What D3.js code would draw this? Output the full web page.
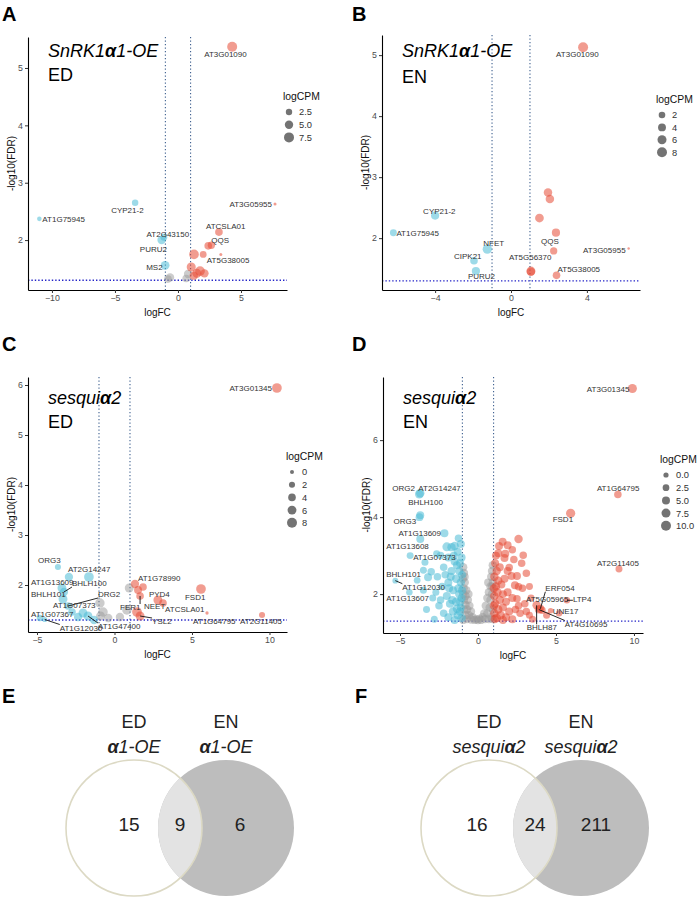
<!DOCTYPE html>
<html><head><meta charset="utf-8">
<script src="https://cdn.jsdelivr.net/npm/d3@7"></script>
<style>body{margin:0;background:#fff}</style>
</head><body>
<svg id="fig" width="700" height="905" xmlns="http://www.w3.org/2000/svg"></svg>
<script>
// ---------------- DATA ----------------
const fdrThreshold = 1.3;      // -log10(0.05)
const fcThreshold = 1;

// Panel A: SnRK1a1-OE, ED
const aGene = ["AT3G01090","AT3G05955","CYP21-2","AT1G75945","AT2G43150","PURU2","MS2","","","","","","","","","","","QQS","","ATCSLA01","AT5G38005",""];
const aLogFC = [4.3,7.7,-3.4,-11.0,-1.3,-1.12,-1.02,-0.63,-0.8,0.8,0.65,1.27,1.05,1.75,1.5,1.25,2.0,2.4,2.65,3.25,3.4,2.1];
const aNegLogFDR = [5.37,2.63,2.65,2.37,2.0,2.05,1.56,1.35,1.32,1.41,1.33,1.75,1.53,1.46,1.42,1.38,1.75,1.9,1.91,2.14,1.75,1.42];
const aLogCPM = [7.5,-0.2,2.6,0.8,5,3,5.5,5,4,5,4,7,6,7,6,5,3,4,3.5,4,-0.2,5];
const aXTicks = [-10,-5,0,5];
const aYTicks = [2,3,4,5];
const aLegendCPM = [2.5,5.0,7.5];

// Panel B: SnRK1a1-OE, EN
const bGene = ["AT3G01090","","","","QQS","","AT3G05955","AT5G56370","","AT5G38005","CYP21-2","AT1G75945","NFET","CIPK21","PURU2"];
const bLogFC = [3.8,1.95,2.05,1.5,2.37,2.25,6.2,1.05,1.05,2.4,-4.0,-6.2,-1.25,-1.95,-1.85];
const bNegLogFDR = [5.13,2.75,2.64,2.33,2.09,1.79,1.83,1.46,1.45,1.39,2.37,2.09,1.82,1.63,1.46];
const bLogCPM = [8,5,5,5.5,4.5,3,-2,6,5,3.5,4.5,2.5,6.5,3.5,4.5];
const bXTicks = [-4,0,4];
const bYTicks = [2,3,4,5];
const bLegendCPM = [2,4,6,8];

// Panel C: sesquia2, ED
const cGene = ["AT3G01345","ORG3","","AT2G14247","AT1G13609","BHLH100","BHLH101","DRG2","AT1G07373","AT1G07367","AT1G12030","AT1G47400","","","",
  "","","","","","","",
  "AT1G78990","","","FER1","PYD4","ATCSLA01","FSD1","NEET","YSL2","AT1G64795","AT2G11405"];
const cLogFC = [10.48,-3.65,-1.65,-2.94,-3.39,-3.26,-3.32,-3.0,-2.03,-4.81,-4.5,-1.71,-1.32,-2.74,-2.35,
  0.95,-0.94,-0.74,0.8,0.35,-0.4,-0.9,
  1.32,1.84,1.52,1.65,2.8,3.13,5.58,1.45,1.65,5.97,9.52];
const cNegLogFDR = [5.94,2.36,2.16,2.16,1.94,1.86,1.72,1.58,1.44,1.34,1.31,1.38,1.3,1.46,1.36,
  1.94,1.64,1.46,1.5,1.36,1.34,1.38,
  2.02,1.96,1.9,1.78,1.7,1.64,1.92,1.46,1.38,1.44,1.4];
const cLogCPM = [7.5,2,7.5,5,6,5,6,4,6,2.5,1,6,5,4,5,
  6,7,7,7,5,5,6,
  5,4,4.5,4,6,4,7.5,7.5,6,-0.5,2];
const cXTicks = [-5,0,5,10];
const cYTicks = [2,3,4,5,6];
const cLegendCPM = [0,2,4,6,8];

// Panel D: sesquia2, EN
const dGene = ["AT3G01345","ORG2","AT2G14247","BHLH100","ORG3","AT1G13609","AT1G13608","AT1G07373","BHLH101","AT1G12030","AT1G13607",
  "AT1G64795","FSD1","AT2G11405","ERF054","AT5G05965","LTP4","UNE17","AT4G10695","BHLH87"];
const dLogFC = [9.9,-3.76,-3.7,-3.7,-3.75,-2.15,-3.7,-4.35,-3.9,-5.3,-4.4,8.97,5.94,9.04,4.0,4.1,5.7,4.66,3.9,3.76];
const dNegLogFDR = [7.34,4.6,4.62,4.05,4.0,3.58,3.43,3.0,2.36,2.35,2.05,4.59,4.1,2.65,1.62,1.58,1.84,1.57,1.6,1.71];
const dLogCPM = [7.5,7,6,5,4.5,5,5,3,2.5,1,2,4,8,3,5,4,2,0.5,5,6];
// unlabeled down-regulated genes (logFC, -log10FDR, logCPM)
const dDownFC = [-2.0,-1.7,-1.5,-1.3,-1.15,-2.4,-1.9,-1.5,-1.2,-2.2,-1.7,-2.6,-1.4,-1.1,-1.9,-2.3,-1.6,-1.2,-2.7,-1.05,-2.0,-1.4,-1.8,-2.5,-1.1,-1.6,-2.2,-1.3,-1.9,-1.05,-2.8,-1.5,-3.3,-2.9,-1.25,-1.15,-1.75,-2.1,-1.35,-1.02,-1.02,-2.4,-3.5,-3.4,-3.2,-3.5,-3.0,-1.1,-1.25,-1.55,-1.05,-1.85,-1.35,-1.65,-1.15,-2.65];
const dDownY = [3.23,3.22,3.25,3.1,2.8,3.0,2.95,2.85,2.6,2.7,2.6,2.45,2.4,2.3,2.3,2.2,2.1,2.0,2.05,1.9,1.95,1.8,1.75,1.7,1.65,1.55,1.5,1.45,1.4,1.38,1.35,1.33,1.6,1.9,2.15,1.55,2.45,2.5,2.75,2.1,2.5,1.85,2.1,2.83,2.44,2.62,2.58,3.3,3.45,3.0,2.95,2.15,1.62,1.85,1.8,3.05];
const dDownCPM = [7,6,6,5,5,4,5,5,6,4,5,4,6,6,5,4,5,6,3,5,5,6,5,4,5,6,4,5,5,6,3,5,3,3,6,5,5,4,5,5,5,4,3,3,5,3,4,5,4,5,5,5,6,5,6,3];
// unlabeled up-regulated genes
const dUpFC = [1.58,1.9,2.6,1.3,1.7,2.9,2.8,3.1,2.15,2.5,2.37,2.0,2.6,2.85,2.5,1.1,1.2,1.05,1.3,1.15,1.5,1.7,1.25,1.6,1.05,1.9,1.4,1.1,1.8,2.2,1.3,1.6,1.05,2.0,1.45,1.2,1.8,2.4,2.7,3.0,3.3,2.2,1.6,3.4,1.4,1.9,3.3,1.35,1.15,2.3,1.75,2.2,3.1,3.5,2.6,4.4,5.2,1.02,1.02,1.08];
const dUpY = [3.36,3.27,3.43,3.06,2.94,3.01,2.8,2.54,2.47,2.47,2.23,2.69,2.19,2.15,1.88,2.8,2.6,2.45,2.35,2.2,2.25,2.4,2.05,2.0,1.95,2.05,1.85,1.75,1.8,1.9,1.6,1.65,1.5,1.55,1.45,1.38,1.4,1.6,1.5,1.75,1.45,1.35,1.33,1.9,2.7,2.6,2.2,3.25,3.0,2.9,3.05,3.15,1.55,1.35,1.7,1.45,1.5,2.15,1.7,1.35];
const dUpCPM = [5,5,6,5,5,4,4,4,5,5,5,4,4,4,4,5,6,6,6,6,5,5,6,5,6,5,6,6,5,5,6,5,6,5,6,6,5,4,4,4,3,5,5,3,5,5,3,5,5,4,5,4,4,3,4,3,2,6,6,6];
// unlabeled non-significant genes
const dFlatFC = [-0.95,-0.9,-0.97,-0.85,-0.92,-0.75,-0.95,-0.8,-0.65,-0.9,-0.55,-0.8,-0.7,-0.45,-0.92,-0.58,-0.35,-0.82,-0.22,-0.7,-0.45,-0.95,-0.6,-0.85,
  0.95,0.9,0.85,0.95,0.8,0.7,0.9,0.6,0.8,0.5,0.75,0.4,0.95,0.6,0.3,0.85,0.2,0.7,0.45,0.95,0.65,0.9,0.0,0.08,-0.1];
const dFlatY = [2.7,2.55,2.4,2.3,2.15,2.1,2.0,1.95,1.85,1.85,1.7,1.72,1.6,1.55,1.6,1.45,1.4,1.45,1.33,1.35,1.34,1.33,2.0,2.45,
  2.75,2.6,2.45,2.3,2.2,2.05,2.0,1.9,1.85,1.7,1.65,1.5,1.6,1.5,1.4,1.4,1.33,1.35,1.35,1.35,2.3,2.2,1.32,1.36,1.35];
const dFlatCPM = [6,6,6,6,6,6,6,6,6,6,6,6,6,6,6,6,6,6,6,6,6,6,5,5,
  6,6,6,6,6,6,6,6,6,6,6,6,6,6,6,6,6,6,6,6,5,5,5,5,5];
const dXTicks = [-5,0,5,10];
const dYTicks = [2,4,6];
const dLegendCPM = [0.0,2.5,5.0,7.5,10.0];

// Venn diagrams
const eSets = ["ED","EN"];
const eCounts = [15,9,6];
const fSets = ["ED","EN"];
const fCounts = [16,24,211];

// ---------------- LAYOUT / STYLE ----------------
const COL = {up:"#E64B35", down:"#4DBBD5", ns:"#999999"};
const FONT = "'Liberation Sans', Arial, Helvetica, sans-serif";

const layout = {
  A:{left:28,right:287,top:37,bottom:290,xDom:[-11.9,8.65],yDom:[1.13,5.54],rDom:[2.5,7.5],rRange:[3.2,5.0],
     legX:283,legY:100,legStep:12.7,letterX:2,letterY:21,titleX:48,titleY:57,subY:81,fmt:".1f"},
  B:{left:382,right:640,top:35,bottom:290,xDom:[-6.8,6.8],yDom:[1.15,5.33],rDom:[2,8],rRange:[3.3,5.0],
     legX:656,legY:103,legStep:12.4,letterX:352,letterY:21,titleX:402,titleY:57,subY:83,fmt:"d"},
  C:{left:28,right:287,top:377,bottom:632,xDom:[-5.58,11.13],yDom:[1.06,6.16],rDom:[0,8],rRange:[2.0,5.0],
     legX:286,legY:460,legStep:12.7,letterX:2,letterY:351,titleX:48,titleY:404,subY:428,fmt:"d"},
  D:{left:383,right:643,top:377,bottom:633,xDom:[-6.09,10.58],yDom:[0.99,7.64],rDom:[0,10],rRange:[2.6,5.0],
     legX:660,legY:463,legStep:12.7,letterX:352,letterY:351,titleX:403,titleY:404,subY:428,fmt:".1f"}
};

// label offsets (dx, dy relative to point, anchor, leader line)
const labelLayout = {
  A:{"AT3G01090":[-28,10,"start",0],"AT3G05955":[-3,3,"end",0],"CYP21-2":[-24,10,"start",0],"AT1G75945":[3,3,"start",0],
     "AT2G43150":[-15,-3,"start",0],"PURU2":[-24,15,"start",0],"MS2":[-19,5,"start",0],"ATCSLA01":[-13,-3,"start",0],
     "QQS":[3,-3,"start",0],"AT5G38005":[-14,9,"start",0]},
  B:{"AT3G01090":[-27,10,"start",0],"CYP21-2":[-12,-2,"start",0],"AT1G75945":[3,3,"start",0],"NFET":[-4,-3,"start",0],
     "CIPK21":[-20,-2,"start",0],"PURU2":[-8,8,"start",0],"QQS":[-15,11,"start",0],"AT5G56370":[-22,-11,"start",0],
     "AT3G05955":[-3,4,"end",0],"AT5G38005":[1,-3,"start",0]},
  C:{"AT3G01345":[-5,3,"end",0],"ORG3":[-20,-4,"start",0],"AT2G14247":[-1,-5,"start",0],"AT1G13609":[-31,-3,"start",0],
     "BHLH100":[8,-6,"start",1],"BHLH101":[-32,-2,"start",0],"DRG2":[30,-9,"start",1],"AT1G07373":[-30,-5,"start",0],
     "AT1G07367":[-9,-1,"start",0],"AT1G12030":[15,11,"start",1],"AT1G47400":[10,13,"start",1],"AT1G78990":[3,-3,"start",0],
     "FER1":[-20,14,"start",1],"PYD4":[-9,-3,"start",0],"NEET":[7,-3,"start",0],"ATCSLA01":[2,9,"start",0],
     "FSD1":[-16,11,"start",0],"YSL2":[12,8,"start",1],"AT1G64795":[-14,11,"start",0],"AT2G11405":[-22,9,"start",0]},
  D:{"AT3G01345":[-3,3,"end",0],"ORG2":[-27,-3,"start",0],"AT2G14247":[-2,-2,"start",0],"BHLH100":[-12,-10,"start",0],
     "ORG3":[-26,7,"start",0],"AT1G13609":[-46,3,"start",0],"AT1G13608":[-34,10,"start",0],"AT1G07373":[3,4,"start",0],
     "BHLH101":[-31,-3,"start",0],"AT1G12030":[7,9,"start",1],"AT1G13607":[-23,9,"start",0],"AT1G64795":[-21,-3,"start",0],
     "FSD1":[-18,9,"start",0],"AT2G11405":[-22,-3,"start",0],"ERF054":[5,-18,"start",1],"AT5G05965":[-16,-8,"start",0],
     "LTP4":[6,2,"start",1],"UNE17":[2,3,"start",0],"AT4G10695":[26,17,"start",1],"BHLH87":[-10,25,"start",1]}
};

const svg = d3.select("#fig");

function zip(gene, fc, y, cpm){ return fc.map((v,i)=>({gene:gene?gene[i]:"", fc:v, y:y[i], cpm:cpm[i]})); }

const panels = [
  {id:"A", pts:zip(aGene,aLogFC,aNegLogFDR,aLogCPM), xT:aXTicks, yT:aYTicks, leg:aLegendCPM, t1:["SnRK1","α","1-OE"], t2:"ED"},
  {id:"B", pts:zip(bGene,bLogFC,bNegLogFDR,bLogCPM), xT:bXTicks, yT:bYTicks, leg:bLegendCPM, t1:["SnRK1","α","1-OE"], t2:"EN"},
  {id:"C", pts:zip(cGene,cLogFC,cNegLogFDR,cLogCPM), xT:cXTicks, yT:cYTicks, leg:cLegendCPM, t1:["sesqui","α","2"], t2:"ED"},
  {id:"D", pts:[].concat(zip(null,dFlatFC,dFlatY,dFlatCPM), zip(null,dDownFC,dDownY,dDownCPM), zip(null,dUpFC,dUpY,dUpCPM), zip(dGene,dLogFC,dNegLogFDR,dLogCPM)),
    xT:dXTicks, yT:dYTicks, leg:dLegendCPM, t1:["sesqui","α","2"], t2:"EN"}
];

function category(p){
  if (p.y >= fdrThreshold && p.fc >= fcThreshold) return "up";
  if (p.y >= fdrThreshold && p.fc <= -fcThreshold) return "down";
  return "ns";
}

panels.forEach(P=>{
  const L = layout[P.id];
  const g = svg.append("g");
  const x = d3.scaleLinear().domain(L.xDom).range([L.left, L.right]);
  const y = d3.scaleLinear().domain(L.yDom).range([L.bottom, L.top]);
  const r = d3.scaleRadial().domain(L.rDom).range(L.rRange);

  // threshold lines
  [-fcThreshold, fcThreshold].forEach(v=>{
    g.append("line").attr("x1",x(v)).attr("x2",x(v)).attr("y1",L.top).attr("y2",L.bottom)
      .attr("stroke","#3d5f8f").attr("stroke-width",1.1).attr("stroke-dasharray","1.2,2.3");
  });
  g.append("line").attr("x1",L.left).attr("x2",L.right).attr("y1",y(fdrThreshold)).attr("y2",y(fdrThreshold))
    .attr("stroke","#2424c8").attr("stroke-width",1.3).attr("stroke-dasharray","1.4,2");

  // points: ns first, then coloured
  const order = {ns:0, down:1, up:2};
  const pts = P.pts.map(p=>Object.assign({cat:category(p)},p));
  const sorted = pts.slice().sort((a,b)=>order[a.cat]-order[b.cat]);
  g.append("g").selectAll("circle").data(sorted).join("circle")
    .attr("cx",d=>x(d.fc)).attr("cy",d=>y(d.y)).attr("r",d=>r(d.cpm))
    .attr("fill",d=>COL[d.cat]).attr("fill-opacity",d=>d.cat==="ns"?0.5:0.55);

  // axes
  const ax = g.append("g").attr("transform",`translate(0,${L.bottom})`)
    .call(d3.axisBottom(x).tickValues(P.xT).tickSize(3).tickSizeOuter(0).tickPadding(2).tickFormat(d3.format("d")));
  const ay = g.append("g").attr("transform",`translate(${L.left},0)`)
    .call(d3.axisLeft(y).tickValues(P.yT).tickSize(3).tickSizeOuter(0).tickPadding(2).tickFormat(d3.format("d")));
  [ax,ay].forEach(a=>{
    a.select(".domain").attr("stroke","#000").attr("stroke-width",1.1);
    a.selectAll(".tick line").attr("stroke","#333");
    a.selectAll(".tick text").attr("fill","#4d4d4d").style("font-family",FONT).style("font-size","8.8px");
  });

  // axis titles
  g.append("text").attr("x",(L.left+L.right)/2).attr("y",L.bottom+26).attr("text-anchor","middle")
    .style("font-family",FONT).style("font-size","10px").attr("fill","#111").text("logFC");
  g.append("text").attr("transform",`translate(${L.left-13},${(L.top+L.bottom)/2}) rotate(-90)`).attr("text-anchor","middle")
    .style("font-family",FONT).style("font-size","10px").attr("fill","#111").text("-log10(FDR)");

  // panel letter
  svg.append("text").attr("x",L.letterX).attr("y",L.letterY).style("font-family",FONT).style("font-size","20px")
    .style("font-weight","bold").text(P.id);

  // titles
  const t = g.append("text").attr("x",L.titleX).attr("y",L.titleY).style("font-family",FONT).style("font-size","18px")
    .style("font-style","italic").attr("fill","#000");
  t.append("tspan").text(P.t1[0]);
  t.append("tspan").style("font-weight","bold").text(P.t1[1]);
  t.append("tspan").text(P.t1[2]);
  g.append("text").attr("x",L.titleX).attr("y",L.subY).style("font-family",FONT).style("font-size","18px").text(P.t2);

  // legend
  g.append("text").attr("x",L.legX).attr("y",L.legY).style("font-family",FONT).style("font-size","10.4px").attr("fill","#111").text("logCPM");
  P.leg.forEach((v,i)=>{
    const cy = L.legY + 12 + i*L.legStep;
    g.append("circle").attr("cx",L.legX+6).attr("cy",cy).attr("r",r(v)).attr("fill","#000").attr("fill-opacity",0.55);
    g.append("text").attr("x",L.legX+16).attr("y",cy+3.4).style("font-family",FONT).style("font-size","9.3px")
      .attr("fill","#333").text(d3.format(L.fmt)(v));
  });

  // labels
  const LL = labelLayout[P.id];
  pts.filter(p=>p.gene && LL[p.gene]).forEach(p=>{
    const [dx,dy,anchor,line] = LL[p.gene];
    const px = x(p.fc), py = y(p.y);
    const tx = g.append("text").attr("x",px+dx).attr("y",py+dy).attr("text-anchor",anchor)
      .style("font-family",FONT).style("font-size","8px").attr("fill","#333").text(p.gene);
    if (line){
      const bb = tx.node().getBBox();
      const lx = Math.max(bb.x, Math.min(px, bb.x+bb.width));
      const ly = Math.max(bb.y+1, Math.min(py, bb.y+bb.height-1));
      g.append("line").attr("x1",px).attr("y1",py).attr("x2",lx).attr("y2",ly).attr("stroke","#111").attr("stroke-width",0.9);
    }
  });
});

// ---------------- VENN ----------------
const vennLayout = [
  {id:"E", sets:eSets, counts:eCounts, sub:["","α","1-OE"], letterX:2, cx0:134, cx1:226, cy:828, r:68, nx:[129,180,240]},
  {id:"F", sets:fSets, counts:fCounts, sub:["sesqui","α","2"], letterX:355, cx0:489, cx1:581, cy:828, r:68, nx:[477,535,596]}
];
vennLayout.forEach((V,k)=>{
  const g = svg.append("g");
  svg.append("text").attr("x",V.letterX).attr("y",703).style("font-family",FONT).style("font-size","20px")
    .style("font-weight","bold").text(V.id);
  const clipId = "clip"+V.id;
  svg.append("clipPath").attr("id",clipId).append("circle").attr("cx",V.cx1).attr("cy",V.cy).attr("r",V.r);
  g.append("circle").attr("cx",V.cx1).attr("cy",V.cy).attr("r",V.r).attr("fill","#bdbdbd");
  g.append("circle").attr("cx",V.cx0).attr("cy",V.cy).attr("r",V.r).attr("fill","#e3e3e3").attr("clip-path",`url(#${clipId})`);
  g.append("circle").attr("cx",V.cx0).attr("cy",V.cy).attr("r",V.r).attr("fill","none").attr("stroke","#dcd9c4").attr("stroke-width",1.6);
  [V.cx0, V.cx1].forEach((cx,i)=>{
    g.append("text").attr("x",cx).attr("y",728).attr("text-anchor","middle").style("font-family",FONT).style("font-size","18px")
      .attr("fill","#222").text(V.sets[i]);
    const t = g.append("text").attr("x",cx).attr("y",753).attr("text-anchor","middle").style("font-family",FONT)
      .style("font-size","18px").style("font-style","italic").attr("fill","#222");
    if (V.sub[0]) t.append("tspan").text(V.sub[0]);
    t.append("tspan").style("font-weight","bold").text(V.sub[1]);
    t.append("tspan").text(V.sub[2]);
  });
  V.counts.forEach((c,i)=>{
    g.append("text").attr("x",V.nx[i]).attr("y",V.cy+3).attr("text-anchor","middle").style("font-family",FONT)
      .style("font-size","19px").attr("fill","#222").text(c);
  });
});
</script>
</body></html>
